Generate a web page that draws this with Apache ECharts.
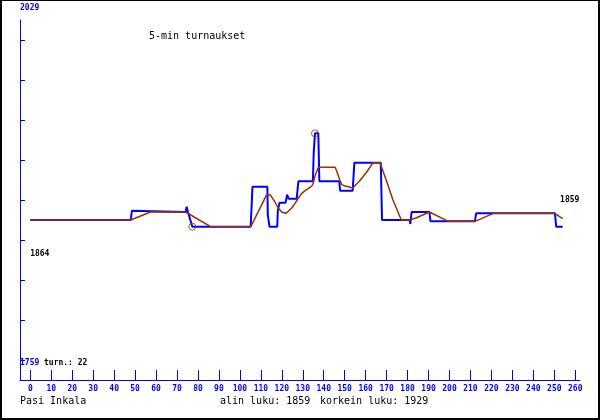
<!DOCTYPE html>
<html><head><meta charset="utf-8">
<script src="https://cdn.jsdelivr.net/npm/echarts@6/dist/echarts.min.js"></script>
<style>
html,body{margin:0;padding:0;background:#fff}
#wrap{position:relative;width:600px;height:420px}
#c{width:600px;height:420px}
#f{position:absolute;left:0;top:0;width:600px;height:420px;box-sizing:border-box;border:2px solid #000;border-top-width:1px;pointer-events:none}
</style>
</head><body><div id="wrap"><div id="c"></div><div id="f"></div></div>
<script>
// ---- data ----
const xTickValues = [0,10,20,30,40,50,60,70,80,90,100,110,120,130,140,150,160,170,180,190,200,210,220,230,240,250,260];
const yTickValues = [1759,1789,1819,1849,1879,1909,1939,1969,1999];
const yEndLabels = ['2029','1759'];
const titleText = '5-min turnaukset';
const authorText = 'Pasi Inkala';
const tournamentsText = 'turn.: 22';
const minLabel = 'alin luku: ';
const maxLabel = 'korkein luku: ';

// blue: rating per game (x = game number)
const ratingSeries = [
  [0,1864],[47.9,1864],[48.5,1871],[48.8,1870],[74.1,1870],[74.6,1874],[75.2,1870],[77.3,1859],
  [105.1,1859],[105.4,1868],[105.8,1868],[106.0,1889],[113.1,1889],[113.3,1868],[113.9,1868],[114.1,1859],
  [117.8,1859],[118.1,1871],[118.6,1871],[118.9,1877],[121.8,1877],[122.5,1883],[123.2,1880],[127.1,1880],
  [127.9,1893],[134.8,1893],[135.2,1914],[135.5,1914],[135.8,1929],[137.4,1929],[137.9,1893],[147.4,1893],
  [147.8,1886],[153.8,1886],[154.6,1907],[167.2,1907],[167.8,1864],[181.0,1864],[181.3,1861],[181.9,1870],
  [190.4,1870],[190.9,1863],[212.1,1863],[212.7,1869],[250.3,1869],[250.9,1859],[254,1859]
];
// brown: averaged rating
const averageSeries = [
  [0,1864],[47.9,1864],[57.4,1870],[74.1,1870],[86,1859],[105.2,1859],
  [112.8,1883],[114.4,1883],[115.2,1881.5],[116.7,1877.5],[118.3,1873],[119.9,1870],[121.8,1869],
  [123.1,1870.5],[124.7,1873],[126.3,1876.5],[127.9,1880.5],[129.5,1884],[131.1,1886],[132.6,1887.5],
  [134.3,1889.5],[135.0,1891.5],[135.8,1897],[137.4,1903.5],[145.4,1903.5],
  [146.2,1900.5],[147.3,1895.5],[148.6,1890.5],[150.1,1889.5],[151.7,1889],[153.8,1888],
  [157,1893],[160.5,1900],[163.5,1907],[166.8,1907],[170,1893],[173,1879],[177,1864],
  [181,1864],[184,1865.5],[190.4,1870],[199.4,1863],[212.2,1863],[220.9,1869],[250.2,1869],
  [252.5,1866.5],[254,1865]
];

// ---- derived ----
const vals = ratingSeries.map(p => p[1]);
const minVal = Math.min(...vals), maxVal = Math.max(...vals);
const minPt = ratingSeries.find(p => p[1] === minVal);
const maxPt = ratingSeries.find(p => p[1] === maxVal);
const firstPt = ratingSeries[0], lastPt = ratingSeries[ratingSeries.length - 1];

const BLUE = '#0000ff', BROWN = '#993300';
const MONO = '"DejaVu Sans Mono", "Liberation Mono", monospace';

const chart = echarts.init(document.getElementById('c'), null, {renderer: 'canvas'});
chart.setOption({
  animation: false,
  backgroundColor: '#fff',
  title: {
    text: titleText, left: 149, top: 31, padding: 0,
    textStyle: {fontFamily: MONO, fontSize: 10, fontWeight: 'normal', color: '#000'}
  },
  grid: [
    {left: 30.3, right: 24.7, top: 0, bottom: 60},
    {left: 20, right: 20, top: 20, bottom: 40}
  ],
  xAxis: [
    {gridIndex: 0, type: 'value', min: 0, max: 260, show: false},
    {gridIndex: 1, type: 'value', min: -4.914, max: 262.26,
      axisLine: {show: true, onZero: false, lineStyle: {color: BLUE, width: 1}},
      axisTick: {show: true, inside: true, length: 10, customValues: xTickValues, lineStyle: {color: BLUE, width: 1}},
      axisLabel: {show: true, customValues: xTickValues, color: BLUE, fontFamily: MONO, fontSize: 8, fontWeight: 'bold', margin: 5},
      splitLine: {show: false}}
  ],
  yAxis: [
    {gridIndex: 0, type: 'value', min: 1759, max: 2029, show: false},
    {gridIndex: 1, type: 'value', min: 1744, max: 2014,
      axisLine: {show: true, onZero: false, lineStyle: {color: BLUE, width: 1}},
      axisTick: {show: true, inside: true, length: 5, customValues: yTickValues, lineStyle: {color: BLUE, width: 1}},
      axisLabel: {show: false},
      splitLine: {show: false}}
  ],
  graphic: [
    {type: 'text', left: 20, top: 4, style: {text: yEndLabels[0], fill: BLUE, font: 'bold 8px ' + MONO}},
    {type: 'text', left: 20, top: 359, style: {text: yEndLabels[1], fill: BLUE, font: 'bold 8px ' + MONO}},
    {type: 'text', left: 44, top: 359, style: {text: tournamentsText, fill: '#000', font: 'bold 8px ' + MONO}},
    {type: 'text', left: 20, top: 396, style: {text: authorText, fill: '#000', font: '10px ' + MONO}},
    {type: 'text', left: 220, top: 396, style: {text: minLabel + minVal, fill: '#000', font: '10px ' + MONO}},
    {type: 'text', left: 320, top: 396, style: {text: maxLabel + maxVal, fill: '#000', font: '10px ' + MONO}}
  ],
  series: [
    {type: 'line', xAxisIndex: 0, yAxisIndex: 0, data: ratingSeries, showSymbol: false, symbol: 'none',
      lineStyle: {color: BLUE, width: 2}, z: 2,
      markPoint: {symbol: 'circle', symbolSize: 0, silent: true,
        label: {show: true, formatter: '{c}', color: '#000', fontFamily: MONO, fontSize: 8, fontWeight: 'bold'},
        data: [
          {coord: firstPt, value: firstPt[1], label: {offset: [9.5, 34]}},
          {coord: lastPt, value: lastPt[1], label: {offset: [7, -26.5]}}
        ]}},
    {type: 'line', xAxisIndex: 0, yAxisIndex: 0, data: averageSeries, showSymbol: false, symbol: 'none',
      lineStyle: {color: BROWN, width: 1.5}, z: 3},
    {type: 'scatter', xAxisIndex: 0, yAxisIndex: 0, data: [minPt, maxPt], symbol: 'circle', symbolSize: 7,
      itemStyle: {color: 'rgba(0,0,0,0)', borderColor: BROWN, borderWidth: 1}, z: 4}
  ]
});
</script>
</body></html>
